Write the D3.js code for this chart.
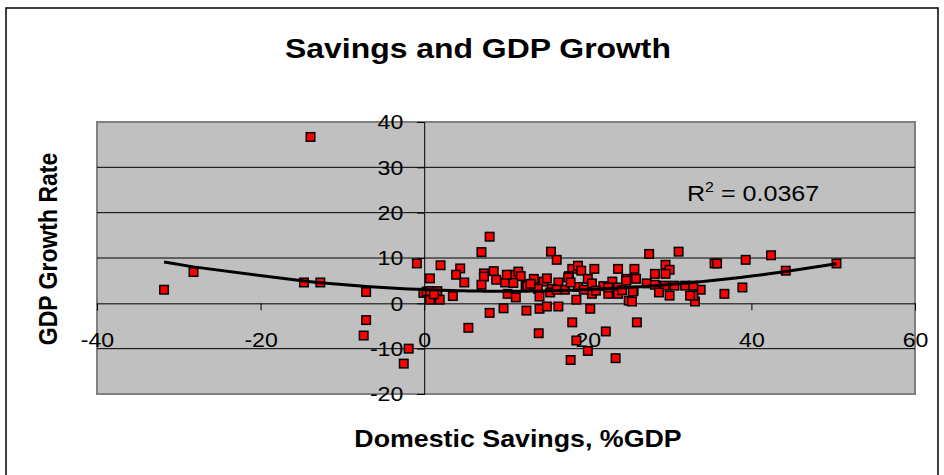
<!DOCTYPE html>
<html>
<head>
<meta charset="utf-8">
<script src="https://cdn.jsdelivr.net/npm/d3@7/dist/d3.min.js"></script>
<style>
  body { margin: 0; background: #fff; }
  svg { display: block; font-family: Arial, "Liberation Sans", sans-serif; }
</style>
</head>
<body>
<div id="chart"></div>
<script>
// domestic savings (%GDP) and GDP growth rate, one entry per country
const savings = [
  -31.8, -28.2, -13.9, -14.7, -12.7, -7.1, -7.1, -7.4, -1.9, -2.5,
  -0.9, 0.7, -0.1, 0.7, 8.0, 7.0, 2.0, 4.4, 3.9, 4.9,
  7.3, 7.3, 8.5, 8.8, 7.0, 9.9, 10.7, 11.5, 11.8, 10.9,
  12.4, 10.2, 11.2, 0.3, 0.7, 1.6, 1.9, 3.5, 8.0, 9.7,
  12.5, 5.4, 15.5, 16.2, 18.1, 18.8, 19.2, 20.8, 23.7, 25.7,
  25.9, 24.7, 17.7, 20.0, 23.0, 13.4, 14.6, 15.0, 16.4, 12.6,
  13.9, 15.6, 17.2, 18.8, 20.5, 21.9, 23.7, 25.6, 14.1, 15.4,
  18.6, 20.5, 22.5, 23.7, 25.0, 25.4, 14.1, 15.0, 16.4, 20.3,
  18.1, 14.0, 22.2, 18.6, 20.0, 17.9, 23.4, 26.0, 17.6, 17.9,
  16.2, 20.5, 22.5, 13.0, 19.5, 21.0, 24.2, 27.5, 31.1, 35.5,
  35.8, 39.3, 42.4, 44.2, 50.4, 38.9, 36.7, 33.8, 33.1, 32.9,
  29.5, 30.0, 29.5, 28.2, 24.7, 27.2, 28.2, 29.4, 30.6, 31.9,
  28.7, 30.0, 25.5, 32.9, 32.5, 1.2, 10.1
];
const growth = [
  3.0, 6.9, 36.7, 4.6, 4.6, 2.5, -3.7, -7.1, -10.0, -13.3,
  8.8, 5.5, 2.3, 0.8, 14.7, 11.3, 8.4, 7.7, 6.3, 4.6,
  6.6, 5.9, 7.1, 5.2, 4.1, 4.6, 6.3, 7.0, 6.0, 4.5,
  3.9, 2.1, 1.3, 2.6, 2.7, 2.7, 0.8, 1.6, -2.1, -1.1,
  -1.6, -5.4, 11.4, 9.6, 7.6, 8.3, 7.2, 7.6, 7.6, 7.6,
  5.4, 5.4, 6.0, 5.4, 4.8, 5.4, 4.8, 5.5, 4.6, 3.8,
  3.2, 3.2, 3.0, 3.6, 3.9, 3.8, 3.5, 2.8, 1.5, 2.4,
  0.8, 2.1, 2.1, 2.1, 0.6, 0.4, -1.2, -0.7, -0.7, -1.2,
  -4.2, -6.6, -6.2, -8.2, -10.5, -12.5, -12.1, -4.2, 5.7, 4.6,
  3.0, 4.4, 3.5, 4.3, 3.0, 2.8, 2.9, 10.9, 11.4, 8.8,
  8.8, 9.6, 10.6, 7.2, 8.8, 3.5, 2.1, 3.0, 0.4, 1.7,
  8.5, 7.4, 6.5, 6.5, 5.0, 4.4, 4.1, 3.9, 3.9, 3.9,
  2.4, 1.7, 2.6, 3.9, 1.7, 2.0, 6.3
];
const xTicks = [-40, -20, 0, 20, 40, 60];
const yTicks = [-20, -10, 0, 10, 20, 30, 40];
const titleText = "Savings and GDP Growth";
const xTitle = "Domestic Savings, %GDP";
const yTitle = "GDP Growth Rate";
const r2Text = "0.0367";

const width = 944, height = 475;
const plot = { left: 97, right: 915, top: 122, bottom: 394 };
const stretch = 1.14; // the original text is a little wider than Arial

const svg = d3.select("#chart").append("svg")
  .attr("width", width).attr("height", height);

svg.append("rect")
  .attr("x", 6).attr("y", 8)
  .attr("width", 932).attr("height", 472)
  .attr("fill", "#fff").attr("stroke", "#000").attr("stroke-width", 1.5);

const x = d3.scaleLinear().domain([-40, 60]).range([plot.left, plot.right]);
const y = d3.scaleLinear().domain([-20, 40]).range([plot.bottom, plot.top]);

svg.append("rect")
  .attr("x", plot.left).attr("y", plot.top)
  .attr("width", plot.right - plot.left).attr("height", plot.bottom - plot.top)
  .attr("fill", "#c0c0c0").attr("stroke", "#808080").attr("stroke-width", 2);

svg.append("g").selectAll("line")
  .data(yTicks.filter(v => v > -20 && v < 40 && v !== 0))
  .enter().append("line")
  .attr("x1", plot.left).attr("x2", plot.right)
  .attr("y1", d => y(d)).attr("y2", d => y(d))
  .attr("stroke", "#000").attr("stroke-width", 1);

const xAxis = svg.append("g")
  .attr("transform", `translate(0,${y(0)})`)
  .call(d3.axisBottom(x).tickValues(xTicks).tickFormat(d => String(d))
    .tickSize(7).tickPadding(22).tickSizeOuter(7));

const yAxis = svg.append("g")
  .attr("transform", `translate(${x(0)},0)`)
  .call(d3.axisLeft(y).tickValues(yTicks).tickFormat(d => String(d))
    .tickSize(7).tickPadding(12).tickSizeOuter(7));

[xAxis, yAxis].forEach(g => {
  g.selectAll("path, line").attr("stroke", "#000").attr("stroke-width", 1);
  g.selectAll("text").attr("font-size", 21).attr("fill", "#000")
    .attr("font-family", "Arial, 'Liberation Sans', sans-serif")
    .attr("transform", "scale(1.1,1)");
});

// second order polynomial trend, least squares on the points
function quadFit(xs, ys) {
  const s = [0, 0, 0, 0, 0], t = [0, 0, 0];
  xs.forEach((xv, i) => {
    let p = 1;
    for (let k = 0; k < 5; k++) { s[k] += p; if (k < 3) t[k] += p * ys[i]; p *= xv; }
  });
  const m = [[s[0], s[1], s[2], t[0]], [s[1], s[2], s[3], t[1]], [s[2], s[3], s[4], t[2]]];
  for (let c = 0; c < 3; c++) {
    for (let r = c + 1; r < 3; r++) {
      const f = m[r][c] / m[c][c];
      for (let k = c; k < 4; k++) m[r][k] -= f * m[c][k];
    }
  }
  const b = [0, 0, 0];
  for (let r = 2; r >= 0; r--) {
    let v = m[r][3];
    for (let k = r + 1; k < 3; k++) v -= m[r][k] * b[k];
    b[r] = v / m[r][r];
  }
  return b;
}
const coef = quadFit(savings, growth);
const sorted = savings.slice().sort((a, b) => a - b);
const trend = d3.line()
  .x(d => x(d))
  .y(d => y(coef[0] + coef[1] * d + coef[2] * d * d));

const pts = savings.map((s, i) => ({ s, g: growth[i] }));
const ms = 8.5;
svg.append("g").selectAll("rect")
  .data(pts)
  .enter().append("rect")
  .attr("x", d => x(d.s) - ms / 2)
  .attr("y", d => y(d.g) - ms / 2)
  .attr("width", ms).attr("height", ms)
  .attr("fill", "#ff0000").attr("stroke", "#000").attr("stroke-width", 1.5);

svg.append("path")
  .datum(sorted)
  .attr("d", trend)
  .attr("fill", "none").attr("stroke", "#000").attr("stroke-width", 3);

const r2 = svg.append("text")
  .attr("transform", `translate(687,201) scale(${stretch},1)`)
  .attr("font-size", 22).attr("fill", "#000");
r2.append("tspan").text("R");
r2.append("tspan").attr("font-size", 14).attr("dy", -9).text("2");
r2.append("tspan").attr("dy", 9).text(" = " + r2Text);

svg.append("text")
  .attr("transform", `translate(478,58) scale(${stretch},1)`)
  .attr("text-anchor", "middle")
  .attr("font-size", 28).attr("font-weight", "bold")
  .text(titleText);

svg.append("text")
  .attr("transform", `translate(518,447) scale(${stretch},1)`)
  .attr("text-anchor", "middle")
  .attr("font-size", 23.5).attr("font-weight", "bold")
  .text(xTitle);

svg.append("text")
  .attr("transform", `translate(57,249) scale(${stretch},1) rotate(-90)`)
  .attr("text-anchor", "middle")
  .attr("font-size", 23).attr("font-weight", "bold")
  .text(yTitle);
</script>
</body>
</html>
